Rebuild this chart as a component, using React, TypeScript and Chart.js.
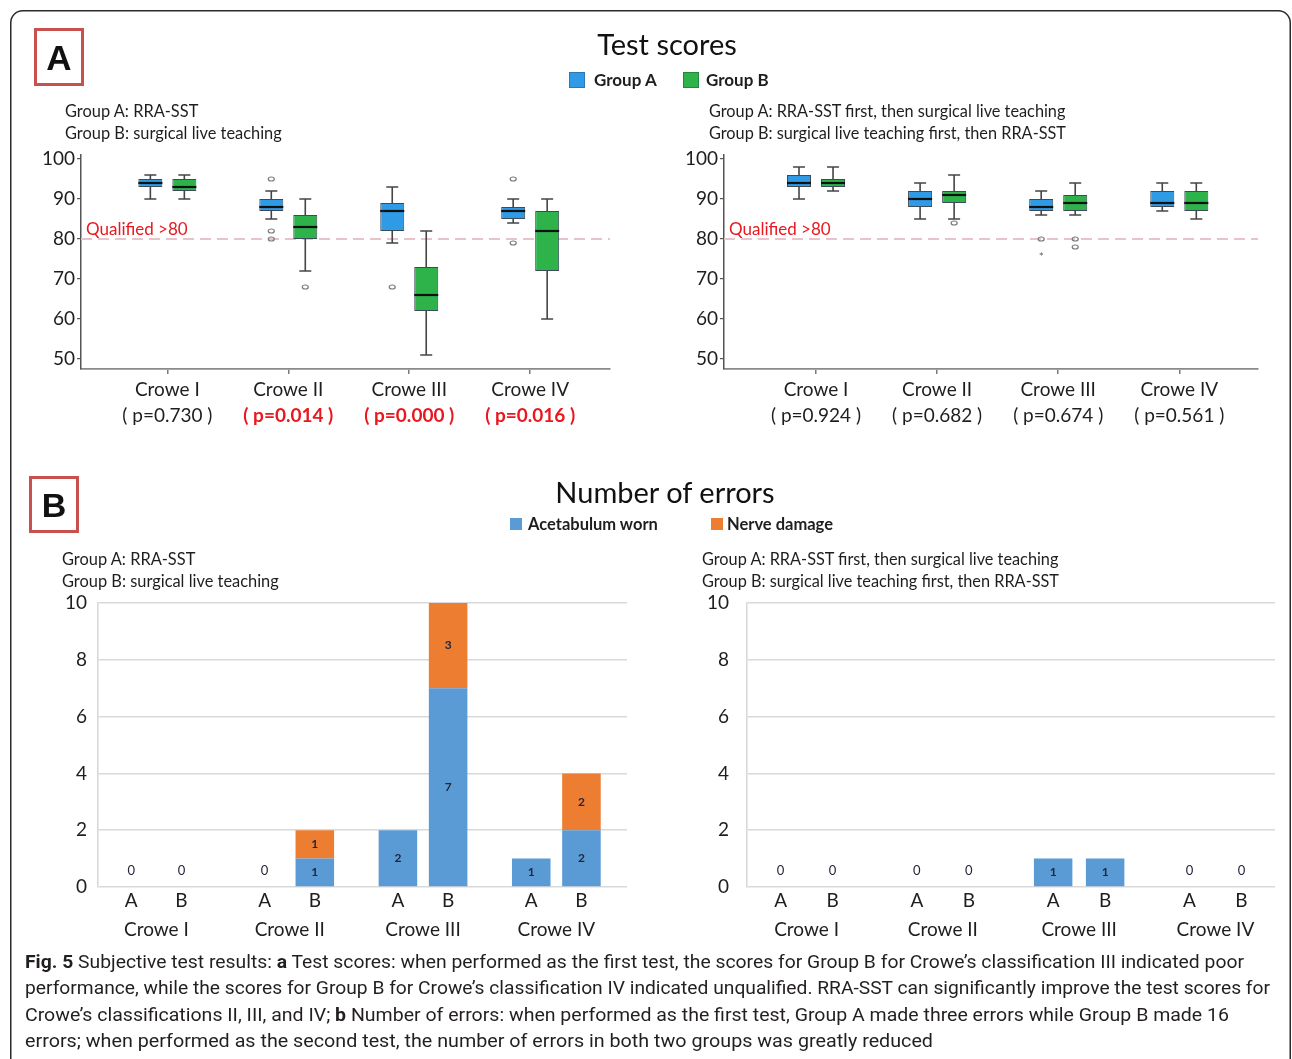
import React, { useEffect, useRef } from 'react';
import { Chart, registerables } from 'chart.js';

Chart.register(...registerables);

const FONT = 'Lato, "Open Sans", "DejaVu Sans", sans-serif';
const CAPTION_FONT = '"Liberation Sans Narrow", Roboto, "Noto Sans", sans-serif';

// ---------- shared labels ----------
const croweLabels = ['Crowe I', 'Crowe II', 'Crowe III', 'Crowe IV'];
const crowePos = [1, 2, 3, 4];
const scoreTicks = [50, 60, 70, 80, 90, 100];
const errorTicks = [0, 2, 4, 6, 8, 10];
const qualifiedScore = 80;
const qualifiedLabel = 'Qualified >80';
const groupLabels = ['A', 'B'];

const scoreTitle = 'Test scores';
const errorTitle = 'Number of errors';
const scoreLegend = ['Group A', 'Group B'];
const errorLegend = ['Acetabulum worn', 'Nerve damage'];
const firstSubtitle = ['Group A: RRA-SST', 'Group B: surgical live teaching'];
const secondSubtitle = [
  'Group A: RRA-SST first, then surgical live teaching',
  'Group B: surgical live teaching first, then RRA-SST',
];

// ---------- Panel A, left (first test) ----------
const firstA_low = [90, 85, 79, 84];
const firstA_q1 = [93, 87, 82, 85];
const firstA_median = [94, 88, 87, 87];
const firstA_q3 = [95, 90, 89, 88];
const firstA_high = [96, 92, 93, 90];
const firstA_outliers = [[], [95, 82, 80], [68], [95, 79]];
const firstA_extremes = [[], [], [], []];

const firstB_low = [90, 72, 51, 60];
const firstB_q1 = [92, 80, 62, 72];
const firstB_median = [93, 83, 66, 82];
const firstB_q3 = [95, 86, 73, 87];
const firstB_high = [96, 90, 82, 90];
const firstB_outliers = [[], [68], [], []];
const firstB_extremes = [[], [], [], []];

const firstP = ['( p=0.730 )', '( p=0.014 )', '( p=0.000 )', '( p=0.016 )'];
const firstPSignificant = [false, true, true, true];

// ---------- Panel A, right (second test) ----------
const secondA_low = [90, 85, 86, 87];
const secondA_q1 = [93, 88, 87, 88];
const secondA_median = [94, 90, 88, 89];
const secondA_q3 = [96, 92, 90, 92];
const secondA_high = [98, 94, 92, 94];
const secondA_outliers = [[], [], [80], []];
const secondA_extremes = [[], [], [76], []];

const secondB_low = [92, 85, 86, 85];
const secondB_q1 = [93, 89, 87, 87];
const secondB_median = [94, 91, 89, 89];
const secondB_q3 = [95, 92, 91, 92];
const secondB_high = [98, 96, 94, 94];
const secondB_outliers = [[], [84], [80, 78], []];
const secondB_extremes = [[], [], [], []];

const secondP = ['( p=0.924 )', '( p=0.682 )', '( p=0.674 )', '( p=0.561 )'];
const secondPSignificant = [false, false, false, false];

// ---------- Panel B ----------
const firstAcetabulumA = [0, 0, 2, 1];
const firstNerveA = [0, 0, 0, 0];
const firstAcetabulumB = [0, 1, 7, 2];
const firstNerveB = [0, 1, 3, 2];

const secondAcetabulumA = [0, 0, 1, 0];
const secondNerveA = [0, 0, 0, 0];
const secondAcetabulumB = [0, 0, 1, 0];
const secondNerveB = [0, 0, 0, 0];

// ---------- caption ----------
const captionLines: { parts: [string, boolean][]; width: number }[] = [
  {
    parts: [
      ['Fig. 5', true],
      [' Subjective test results: ', false],
      ['a', true],
      [' Test scores: when performed as the first test, the scores for Group B for Crowe\u2019s classification III indicated poor', false],
    ],
    width: 1219,
  },
  {
    parts: [
      ['performance, while the scores for Group B for Crowe\u2019s classification IV indicated unqualified. RRA-SST can significantly improve the test scores for', false],
    ],
    width: 1245,
  },
  {
    parts: [
      ['Crowe\u2019s classifications II, III, and IV; ', false],
      ['b', true],
      [' Number of errors: when performed as the first test, Group A made three errors while Group B made 16', false],
    ],
    width: 1204,
  },
  {
    parts: [['errors; when performed as the second test, the number of errors in both two groups was greatly reduced', false]],
    width: 908,
  },
];

// ---------- colours ----------
const BOX_BLUE = '#2f9ae6';
const BOX_GREEN = '#2db34a';
const BAR_BLUE = '#5b9bd5';
const BAR_ORANGE = '#ed7d31';
const RED = '#e8181e';
const FRAME_RED = '#c8514f';

type BoxGroup = {
  low: number[];
  q1: number[];
  median: number[];
  q3: number[];
  high: number[];
  outliers: number[][];
  extremes: number[][];
};

type Geom = {
  xMin: number;
  xMax: number;
  yWidth: number;
  xHeight: number;
  padTop: number;
  padRight: number;
  catPct: number;
  barPct: number;
  tickPad?: number;
};

function boxPlugin(groups: BoxGroup[], pLabels: string[], pSig: boolean[]) {
  return {
    id: 'boxDecor',
    beforeDatasetsDraw(chart: any) {
      const { ctx, chartArea, scales } = chart;
      const y = scales.y;
      ctx.save();
      const yq = y.getPixelForValue(qualifiedScore);
      ctx.strokeStyle = '#e8c3c9';
      ctx.lineWidth = 2;
      ctx.setLineDash([11, 6]);
      ctx.beginPath();
      ctx.moveTo(chartArea.left, yq);
      ctx.lineTo(chartArea.right, yq);
      ctx.stroke();
      ctx.setLineDash([]);
      ctx.fillStyle = RED;
      ctx.font = `17px ${FONT}`;
      ctx.textAlign = 'left';
      ctx.textBaseline = 'alphabetic';
      ctx.fillText(qualifiedLabel, chartArea.left + 5, yq - 4);

      ctx.strokeStyle = '#454545';
      ctx.lineWidth = 1.6;
      groups.forEach((g, di) => {
        const meta = chart.getDatasetMeta(di);
        meta.data.forEach((el: any, i: number) => {
          const x = el.x;
          const cap = el.width / 4;
          const yl = y.getPixelForValue(g.low[i]);
          const yh = y.getPixelForValue(g.high[i]);
          ctx.beginPath();
          ctx.moveTo(x, yl);
          ctx.lineTo(x, yh);
          ctx.moveTo(x - cap, yl);
          ctx.lineTo(x + cap, yl);
          ctx.moveTo(x - cap, yh);
          ctx.lineTo(x + cap, yh);
          ctx.stroke();
        });
      });
      ctx.restore();
    },
    afterDatasetsDraw(chart: any) {
      const { ctx, scales } = chart;
      const y = scales.y;
      ctx.save();
      groups.forEach((g, di) => {
        const meta = chart.getDatasetMeta(di);
        meta.data.forEach((el: any, i: number) => {
          const x = el.x;
          const half = el.width / 2;
          const ym = y.getPixelForValue(g.median[i]);
          ctx.strokeStyle = '#111';
          ctx.lineWidth = 2.2;
          ctx.beginPath();
          ctx.moveTo(x - half, ym);
          ctx.lineTo(x + half, ym);
          ctx.stroke();
          ctx.strokeStyle = '#7a7a7a';
          ctx.lineWidth = 1.2;
          g.outliers[i].forEach((v) => {
            const yo = y.getPixelForValue(v);
            ctx.beginPath();
            ctx.ellipse(x, yo, 3, 2, 0, 0, Math.PI * 2);
            ctx.stroke();
          });
          ctx.fillStyle = '#666';
          ctx.font = `12px ${FONT}`;
          ctx.textAlign = 'center';
          ctx.textBaseline = 'middle';
          g.extremes[i].forEach((v) => {
            ctx.fillText('*', x, y.getPixelForValue(v) + 2);
          });
        });
      });
      ctx.restore();
    },
    afterDraw(chart: any) {
      const { ctx, chartArea, scales } = chart;
      ctx.save();
      ctx.textAlign = 'center';
      ctx.textBaseline = 'middle';
      crowePos.forEach((v, i) => {
        const x = scales.x.getPixelForValue(v);
        ctx.font = `19px ${FONT}`;
        ctx.fillStyle = '#1e1e1e';
        ctx.fillText(croweLabels[i], x, chartArea.bottom + 21);
        ctx.font = pSig[i] ? `bold 19px ${FONT}` : `19px ${FONT}`;
        ctx.fillStyle = pSig[i] ? RED : '#1e1e1e';
        ctx.fillText(pLabels[i], x, chartArea.bottom + 47);
      });
      ctx.restore();
    },
  };
}

function boxConfig(groups: BoxGroup[], pLabels: string[], pSig: boolean[], geom: Geom): any {
  const colors = [BOX_BLUE, BOX_GREEN];
  return {
    type: 'bar',
    data: {
      datasets: groups.map((g, gi) => ({
        label: scoreLegend[gi],
        data: crowePos.map((x, i) => ({ x, y: [g.q1[i], g.q3[i]] })),
        backgroundColor: colors[gi],
        borderColor: '#3b4b58',
        borderWidth: 1,
        borderSkipped: false,
        categoryPercentage: geom.catPct,
        barPercentage: geom.barPct,
      })),
    },
    options: {
      responsive: false,
      animation: false,
      devicePixelRatio: 1,
      events: [],
      layout: { padding: { top: geom.padTop, right: geom.padRight, left: 0, bottom: 0 } },
      plugins: { legend: { display: false }, tooltip: { enabled: false }, title: { display: false } },
      scales: {
        x: {
          type: 'linear',
          min: geom.xMin,
          max: geom.xMax,
          offset: false,
          grid: { display: true, offset: false, drawOnChartArea: false, drawTicks: true, tickLength: 5, color: '#7a7a7a', lineWidth: 1.5 },
          border: { display: true, color: '#8a8a8a', width: 1.8 },
          ticks: { display: false },
          afterBuildTicks: (s: any) => {
            s.ticks = crowePos.map((v) => ({ value: v }));
          },
          afterFit: (s: any) => {
            s.height = geom.xHeight;
            s.paddingLeft = 0;
            s.paddingRight = 0;
          },
        },
        y: {
          type: 'linear',
          min: 47.5,
          max: 101,
          beginAtZero: false,
          grid: { display: true, drawOnChartArea: false, drawTicks: true, tickLength: 4, color: '#555', lineWidth: 1.2 },
          border: { display: true, color: '#555', width: 1.5 },
          ticks: { font: { family: FONT, size: 19 }, color: '#1e1e1e', padding: geom.tickPad ?? 2 },
          afterBuildTicks: (s: any) => {
            s.ticks = scoreTicks.map((v) => ({ value: v }));
          },
          afterFit: (s: any) => {
            s.width = geom.yWidth;
            s.paddingTop = 0;
            s.paddingBottom = 0;
          },
        },
      },
    },
    plugins: [boxPlugin(groups, pLabels, pSig)],
  };
}

function errorPlugin() {
  return {
    id: 'errorDecor',
    afterDatasetsDraw(chart: any) {
      const { ctx, scales } = chart;
      const ds = chart.data.datasets;
      ctx.save();
      ctx.textAlign = 'center';
      ctx.textBaseline = 'middle';
      ctx.font = `bold 12px ${FONT}`;
      ctx.fillStyle = '#24263a';
      ds.forEach((d: any, di: number) => {
        const meta = chart.getDatasetMeta(di);
        meta.data.forEach((el: any, i: number) => {
          const v = d.data[i].y;
          if (v > 0) ctx.fillText(String(v), el.x, (el.y + el.base) / 2);
        });
      });
      ctx.font = `13px ${FONT}`;
      [
        [0, 1],
        [2, 3],
      ].forEach(([a, b]) => {
        const meta = chart.getDatasetMeta(a);
        meta.data.forEach((el: any, i: number) => {
          if (ds[a].data[i].y + ds[b].data[i].y === 0) {
            ctx.fillText('0', el.x, scales.y.getPixelForValue(0) - 16);
          }
        });
      });
      ctx.restore();
    },
    afterDraw(chart: any) {
      const { ctx, chartArea, scales } = chart;
      ctx.save();
      ctx.textAlign = 'center';
      ctx.textBaseline = 'middle';
      ctx.fillStyle = '#1e1e1e';
      ctx.font = `19px ${FONT}`;
      [0, 2].forEach((di, gi) => {
        const meta = chart.getDatasetMeta(di);
        meta.data.forEach((el: any) => {
          ctx.fillText(groupLabels[gi], el.x, chartArea.bottom + 14);
        });
      });
      crowePos.forEach((v, i) => {
        ctx.fillText(croweLabels[i], scales.x.getPixelForValue(v), chartArea.bottom + 43);
      });
      ctx.restore();
    },
  };
}

function errorConfig(accA: number[], nerveA: number[], accB: number[], nerveB: number[], geom: Geom): any {
  const mk = (label: string, arr: number[], stack: string, color: string) => ({
    label,
    data: crowePos.map((x, i) => ({ x, y: arr[i] })),
    stack,
    backgroundColor: color,
    borderWidth: 0,
    categoryPercentage: geom.catPct,
    barPercentage: geom.barPct,
  });
  return {
    type: 'bar',
    data: {
      datasets: [
        mk(errorLegend[0], accA, 'A', BAR_BLUE),
        mk(errorLegend[1], nerveA, 'A', BAR_ORANGE),
        mk(errorLegend[0], accB, 'B', BAR_BLUE),
        mk(errorLegend[1], nerveB, 'B', BAR_ORANGE),
      ],
    },
    options: {
      responsive: false,
      animation: false,
      devicePixelRatio: 1,
      events: [],
      layout: { padding: { top: geom.padTop, right: geom.padRight, left: 0, bottom: 0 } },
      plugins: { legend: { display: false }, tooltip: { enabled: false }, title: { display: false } },
      scales: {
        x: {
          type: 'linear',
          stacked: true,
          min: geom.xMin,
          max: geom.xMax,
          offset: false,
          grid: { display: false, offset: false },
          border: { display: false },
          ticks: { display: false },
          afterBuildTicks: (s: any) => {
            s.ticks = crowePos.map((v) => ({ value: v }));
          },
          afterFit: (s: any) => {
            s.height = geom.xHeight;
            s.paddingLeft = 0;
            s.paddingRight = 0;
          },
        },
        y: {
          type: 'linear',
          stacked: true,
          min: 0,
          max: 10,
          grid: { display: true, drawOnChartArea: true, drawTicks: false, color: '#d9d9d9', lineWidth: 1.6 },
          border: { display: true, color: '#d9d9d9', width: 1.6 },
          ticks: { font: { family: FONT, size: 19 }, color: '#1e1e1e', padding: geom.tickPad ?? 10 },
          afterBuildTicks: (s: any) => {
            s.ticks = errorTicks.map((v) => ({ value: v }));
          },
          afterFit: (s: any) => {
            s.width = geom.yWidth;
            s.paddingTop = 0;
            s.paddingBottom = 0;
          },
        },
      },
    },
    plugins: [errorPlugin()],
  };
}

const firstGroups: BoxGroup[] = [
  { low: firstA_low, q1: firstA_q1, median: firstA_median, q3: firstA_q3, high: firstA_high, outliers: firstA_outliers, extremes: firstA_extremes },
  { low: firstB_low, q1: firstB_q1, median: firstB_median, q3: firstB_q3, high: firstB_high, outliers: firstB_outliers, extremes: firstB_extremes },
];
const secondGroups: BoxGroup[] = [
  { low: secondA_low, q1: secondA_q1, median: secondA_median, q3: secondA_q3, high: secondA_high, outliers: secondA_outliers, extremes: secondA_extremes },
  { low: secondB_low, q1: secondB_q1, median: secondB_median, q3: secondB_q3, high: secondB_high, outliers: secondB_outliers, extremes: secondB_extremes },
];

export default function App() {
  const tl = useRef<HTMLCanvasElement>(null);
  const tr = useRef<HTMLCanvasElement>(null);
  const bl = useRef<HTMLCanvasElement>(null);
  const br = useRef<HTMLCanvasElement>(null);

  useEffect(() => {
    const charts = [
      new Chart(
        tl.current!,
        boxConfig(firstGroups, firstP, firstPSignificant, {
          xMin: 0.286, xMax: 4.66, yWidth: 81, xHeight: 81, padTop: 15, padRight: 40, catPct: 0.562, barPct: 0.706,
        })
      ),
      new Chart(
        tr.current!,
        boxConfig(secondGroups, secondP, secondPSignificant, {
          xMin: 0.24, xMax: 4.65, yWidth: 74, xHeight: 81, padTop: 15, padRight: 34, catPct: 0.562, barPct: 0.706,
        })
      ),
      new Chart(
        bl.current!,
        errorConfig(firstAcetabulumA, firstNerveA, firstAcetabulumB, firstNerveB, {
          xMin: 0.562, xMax: 4.53, yWidth: 98, xHeight: 63, padTop: 13, padRight: 23, catPct: 0.753, barPct: 0.768, tickPad: 11,
        })
      ),
      new Chart(
        br.current!,
        errorConfig(secondAcetabulumA, secondNerveA, secondAcetabulumB, secondNerveB, {
          xMin: 0.563, xMax: 4.437, yWidth: 97, xHeight: 63, padTop: 13, padRight: 17, catPct: 0.763, barPct: 0.74, tickPad: 18,
        })
      ),
    ];
    return () => charts.forEach((c) => c.destroy());
  }, []);

  const cv = (left: number, top: number): React.CSSProperties => ({ position: 'absolute', left, top });

  return (
    <div style={{ position: 'absolute', left: 0, top: 0, width: 1292, height: 1059, background: '#fff', overflow: 'hidden' }}>
      <canvas ref={tl} width={650} height={310} style={cv(0, 140)} />
      <canvas ref={tr} width={642} height={310} style={cv(650, 140)} />
      <canvas ref={bl} width={650} height={360} style={cv(0, 590)} />
      <canvas ref={br} width={642} height={360} style={cv(650, 590)} />
      <svg
        width={1292}
        height={1059}
        style={{ position: 'absolute', left: 0, top: 0, pointerEvents: 'none' }}
        fontFamily={FONT}
      >
        <rect x={10.75} y={10.75} width={1279.5} height={1100} rx={12} fill="none" stroke="#2b2b2b" strokeWidth={1.5} />

        {/* Panel A header */}
        <rect x={35.5} y={29.5} width={47} height={55} fill="none" stroke={FRAME_RED} strokeWidth={3} />
        <text x={59} y={70} textAnchor="middle" fontFamily="'Liberation Sans', Arial, sans-serif" fontWeight="bold" fontSize={35} fill="#111">A</text>
        <text x={667} y={55} textAnchor="middle" fontSize={29} fill="#111">{scoreTitle}</text>
        <rect x={569.5} y={72.5} width={15} height={15} fill={BOX_BLUE} stroke="#2a78b5" strokeWidth={1} />
        <text x={594} y={86} fontSize={17} fontWeight="bold" fill="#1e1e1e">{scoreLegend[0]}</text>
        <rect x={683.5} y={72.5} width={15} height={15} fill={BOX_GREEN} stroke="#23883a" strokeWidth={1} />
        <text x={706} y={86} fontSize={17} fontWeight="bold" fill="#1e1e1e">{scoreLegend[1]}</text>
        <text x={65} y={117} fontSize={16.4} fill="#1e1e1e">{firstSubtitle[0]}</text>
        <text x={65} y={139} fontSize={16.4} fill="#1e1e1e">{firstSubtitle[1]}</text>
        <text x={709} y={117} fontSize={16.3} fill="#1e1e1e">{secondSubtitle[0]}</text>
        <text x={709} y={139} fontSize={16.3} fill="#1e1e1e">{secondSubtitle[1]}</text>

        {/* Panel B header */}
        <rect x={30.5} y={477.5} width={47} height={54} fill="none" stroke={FRAME_RED} strokeWidth={3} />
        <text x={54} y={517} textAnchor="middle" fontFamily="'Liberation Sans', Arial, sans-serif" fontWeight="bold" fontSize={34} fill="#111">B</text>
        <text x={665} y={503} textAnchor="middle" fontSize={29} fill="#111">{errorTitle}</text>
        <rect x={510} y={518} width={12} height={12} fill={BAR_BLUE} />
        <text x={528} y={529.5} fontSize={16.5} fontWeight="bold" fill="#1e1e1e">{errorLegend[0]}</text>
        <rect x={711} y={518} width={12} height={12} fill={BAR_ORANGE} />
        <text x={727} y={529.5} fontSize={16.5} fontWeight="bold" fill="#1e1e1e">{errorLegend[1]}</text>
        <text x={62} y={565} fontSize={16.4} fill="#1e1e1e">{firstSubtitle[0]}</text>
        <text x={62} y={587} fontSize={16.4} fill="#1e1e1e">{firstSubtitle[1]}</text>
        <text x={702} y={565} fontSize={16.3} fill="#1e1e1e">{secondSubtitle[0]}</text>
        <text x={702} y={587} fontSize={16.3} fill="#1e1e1e">{secondSubtitle[1]}</text>

        {/* Caption */}
        {captionLines.map((line, li) => (
          <text
            key={li}
            x={25}
            y={968 + li * 26.3}
            fontFamily={CAPTION_FONT}
            fontSize={19}
            fill="#231f20"
            textLength={line.width}
            lengthAdjust="spacingAndGlyphs"
            style={{ whiteSpace: 'pre' }}
          >
            {line.parts.map(([t, b], pi) => (
              <tspan key={pi} fontWeight={b ? 'bold' : 'normal'}>
                {t}
              </tspan>
            ))}
          </text>
        ))}
      </svg>
    </div>
  );
}
